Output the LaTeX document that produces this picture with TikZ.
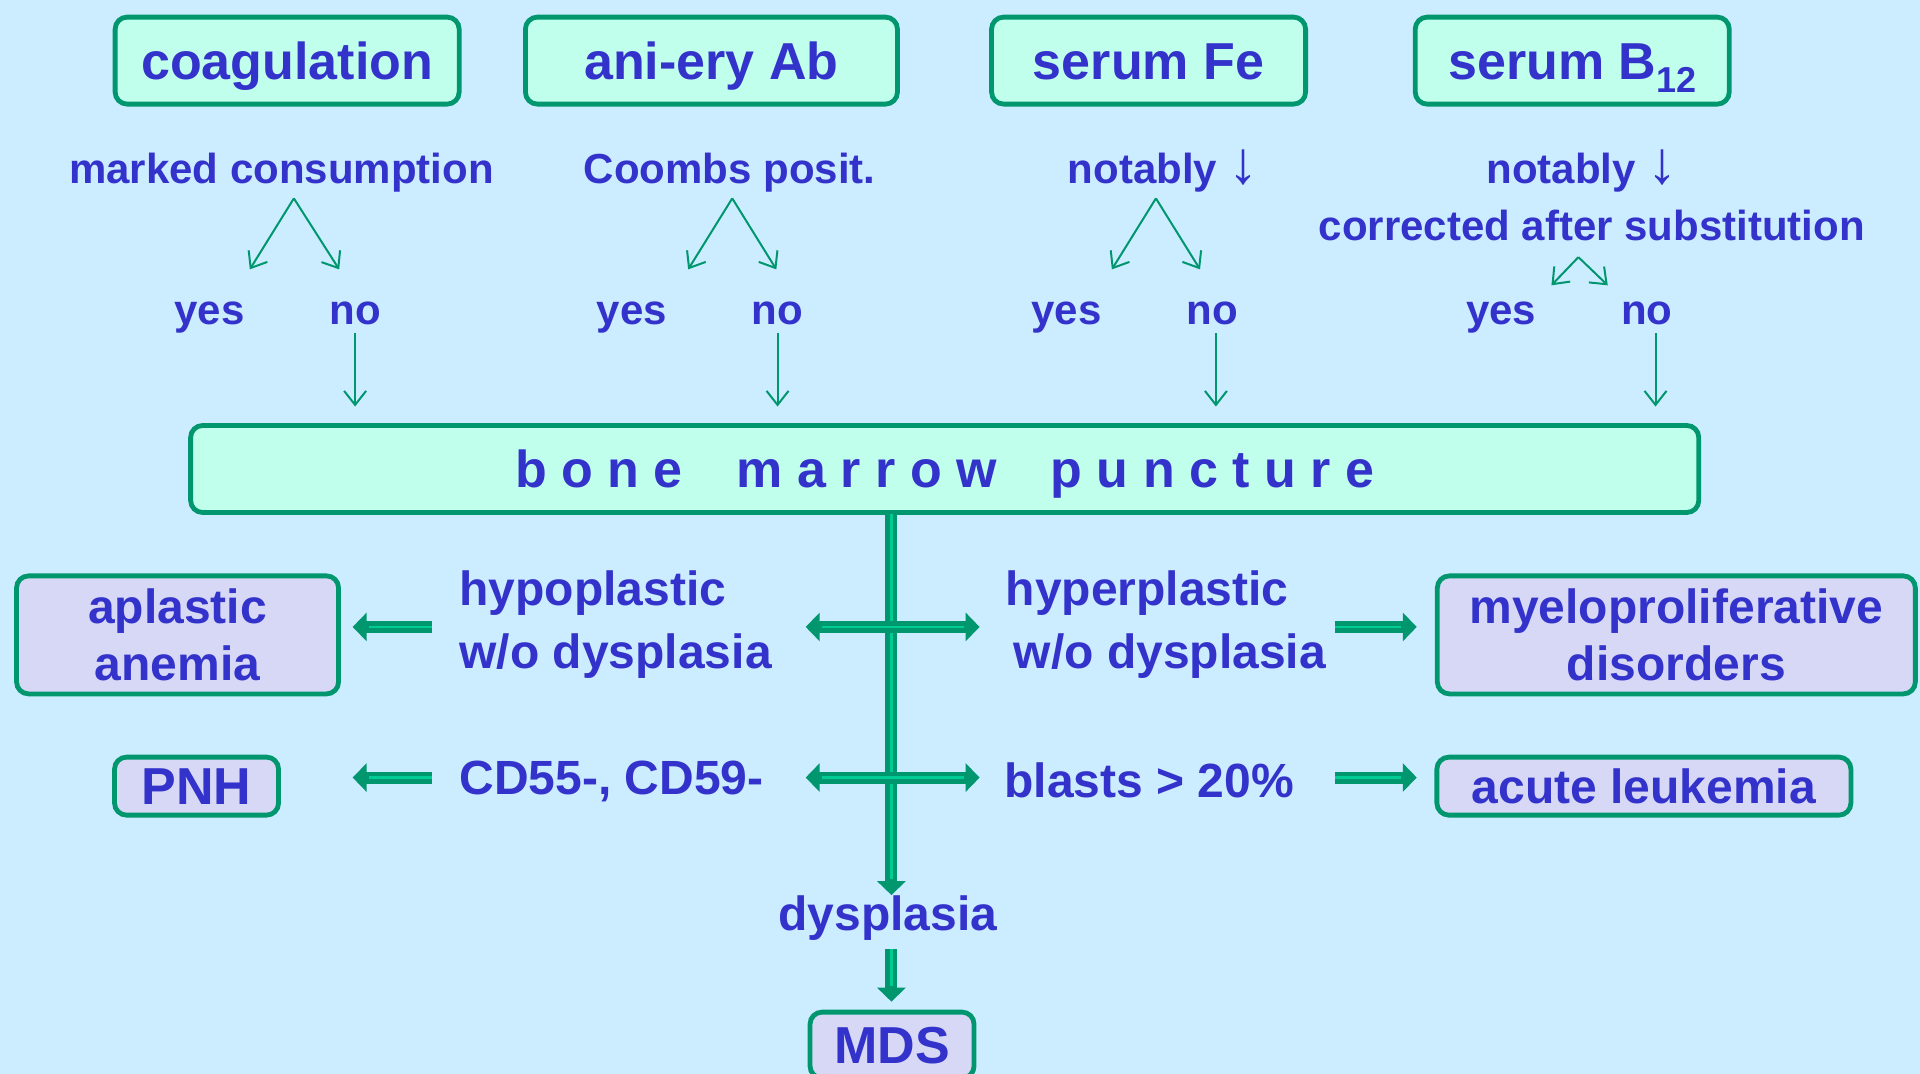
\documentclass[tikz,border=0pt]{standalone}
\usepackage{fontspec}
\setmainfont{Liberation Sans}
\usetikzlibrary{arrows.meta}
\definecolor{bg}{RGB}{204,236,255}
\definecolor{dkg}{RGB}{0,150,110}
\definecolor{ltg}{RGB}{0,204,150}
\definecolor{mint}{RGB}{192,255,236}
\definecolor{lav}{RGB}{214,216,245}
\definecolor{txt}{RGB}{51,51,204}
\newcommand{\dnarrow}{{\fontsize{30}{30}\selectfont\mdseries ↓}}
\begin{document}
\begin{tikzpicture}[x=0.6122pt,y=-0.6122pt,
  every node/.style={text=txt},
  topbox/.style={draw=dkg, fill=mint, line width=2.4pt, rounded corners=6pt, inner sep=0pt, text height=18.6pt, text depth=0pt, font=\fontsize{26}{30}\selectfont\bfseries},
  resbox/.style={draw=dkg, fill=lav, line width=2.4pt, rounded corners=6pt, inner sep=0pt, align=center, font=\fontsize{24}{28.8}\selectfont\bfseries},
  lbl/.style={inner sep=0pt, text height=15pt, text depth=4.4pt, font=\fontsize{21}{25}\selectfont\bfseries},
  mid/.style={inner sep=0pt, align=left, font=\fontsize{24}{31.8}\selectfont\bfseries},
  thinarr/.style={draw=dkg, line width=1pt, -{Straight Barb[length=7pt,width=11pt]}},
  fat/.style={draw=dkg, line width=6pt, -{Triangle[length=7pt,width=14pt]},
    postaction={draw=ltg, line width=1.4pt, -, shorten >=8pt}},
  fatboth/.style={draw=dkg, line width=6pt, {Triangle[length=7pt,width=14pt]}-{Triangle[length=7pt,width=14pt]},
    postaction={draw=ltg, line width=1.4pt, -, shorten >=8pt, shorten <=8pt}}
]
\useasboundingbox[fill=bg] (0,0) rectangle (1568,877);

% top boxes
\node[topbox, minimum width=172pt, minimum height=43.5pt] (coag) at (234.5,49.5) {coagulation};
\node[topbox, minimum width=186pt, minimum height=43.5pt] (ab) at (581,49.5) {ani-ery Ab};
\node[topbox, minimum width=157pt, minimum height=43.5pt] (fe) at (938,49.5) {serum Fe};
\node[topbox, minimum width=157pt, minimum height=43.5pt] (b12) at (1284,49.5) {serum B\raisebox{-6.5pt}{\fontsize{18}{18}\selectfont 12}};

% first-level labels
\node[lbl] (q1) at (230,141) {marked consumption};
\node[lbl] (q2) at (596,141) {Coombs posit.};
\node[lbl] (q3) at (950,141) {notably \dnarrow};
\node[lbl] (q4) at (1292,141) {notably \dnarrow};
\node[lbl] (q4b) at (1300,188) {corrected after substitution};

% yes / no
\node[lbl] (y1) at (171,256) {yes};
\node[lbl] (n1) at (290,256) {no};
\node[lbl] (y2) at (516,256) {yes};
\node[lbl] (n2) at (635,256) {no};
\node[lbl] (y3) at (871,256) {yes};
\node[lbl] (n3) at (990,256) {no};
\node[lbl] (y4) at (1226,256) {yes};
\node[lbl] (n4) at (1345,256) {no};

% split arrows
\coordinate (a1) at (240,162); \coordinate (ay1) at (204,220); \coordinate (an1) at (277,220);
\coordinate (a2) at (598,162); \coordinate (ay2) at (562,220); \coordinate (an2) at (634,220);
\coordinate (a3) at (944,162); \coordinate (ay3) at (908,220); \coordinate (an3) at (980,220);
\coordinate (a4) at (1289,210); \coordinate (ay4) at (1267,233); \coordinate (an4) at (1313,233);
\draw[thinarr] (a1) -- (ay1); \draw[thinarr] (a1) -- (an1);
\draw[thinarr] (a2) -- (ay2); \draw[thinarr] (a2) -- (an2);
\draw[thinarr] (a3) -- (ay3); \draw[thinarr] (a3) -- (an3);
\draw[thinarr] (a4) -- (ay4); \draw[thinarr] (a4) -- (an4);

% bone marrow puncture
\node[topbox, minimum width=754pt, minimum height=43.5pt] (bm) at (771.5,383)
  {b o n e\hspace{27pt}m a r r o w\hspace{27pt}p u n c t u r e};

% no -> bone marrow
\coordinate (s1) at (290,272); \coordinate (e1) at (290,332);
\coordinate (s2) at (635,272); \coordinate (e2) at (635,332);
\coordinate (s3) at (993,272); \coordinate (e3) at (993,332);
\coordinate (s4) at (1352,272); \coordinate (e4) at (1352,332);
\draw[thinarr] (s1) -- (e1);
\draw[thinarr] (s2) -- (e2);
\draw[thinarr] (s3) -- (e3);
\draw[thinarr] (s4) -- (e4);

% middle labels
\node[mid, anchor=west] (hypo) at (375,510) {hypoplastic\\w/o dysplasia};
\node[mid, anchor=west] (hyper) at (821,510) {hyperplastic\\\hspace{4pt}w/o dysplasia};
\node[mid, anchor=west] (cd) at (375,638) {CD55-, CD59-};
\node[mid, anchor=west] (bl) at (820,637) {blasts > 20\%};
\node[mid] (dys) at (725,750) {dysplasia};

% result boxes
\node[resbox, minimum width=161pt, minimum height=59pt] (aa) at (145,518.5) {aplastic\\anemia};
\node[resbox, minimum width=239pt, minimum height=59pt] (mpd) at (1369,518.5) {myeloproliferative\\disorders};
\node[resbox, minimum width=82pt, minimum height=29pt, font=\fontsize{26}{30}\selectfont\bfseries] (pnh) at (160.5,642) {PNH};
\node[resbox, minimum width=207pt, minimum height=29pt] (al) at (1342.5,642) {acute leukemia};
\node[resbox, minimum width=82pt, minimum height=33pt, font=\fontsize{26}{30}\selectfont\bfseries] (mds) at (728.5,853.5) {MDS};

% fat arrows
\coordinate (v0) at (728,420); \coordinate (v1) at (728,731);
\draw[fat] (v0) -- (v1);
\coordinate (h1l) at (658,512); \coordinate (h1r) at (800,512);
\coordinate (h2l) at (658,635); \coordinate (h2r) at (800,635);
\draw[fatboth] (h1l) -- (h1r);
\draw[fatboth] (h2l) -- (h2r);
\coordinate (l1s) at (353,512); \coordinate (l1e) at (288,512);
\coordinate (l2s) at (353,635); \coordinate (l2e) at (288,635);
\draw[fat] (l1s) -- (l1e);
\draw[fat] (l2s) -- (l2e);
\coordinate (r1s) at (1090,512); \coordinate (r1e) at (1157,512);
\coordinate (r2s) at (1090,635); \coordinate (r2e) at (1157,635);
\draw[fat] (r1s) -- (r1e);
\draw[fat] (r2s) -- (r2e);
\coordinate (d0) at (728,775); \coordinate (d1) at (728,818);
\draw[fat] (d0) -- (d1);
\end{tikzpicture}
\end{document}
